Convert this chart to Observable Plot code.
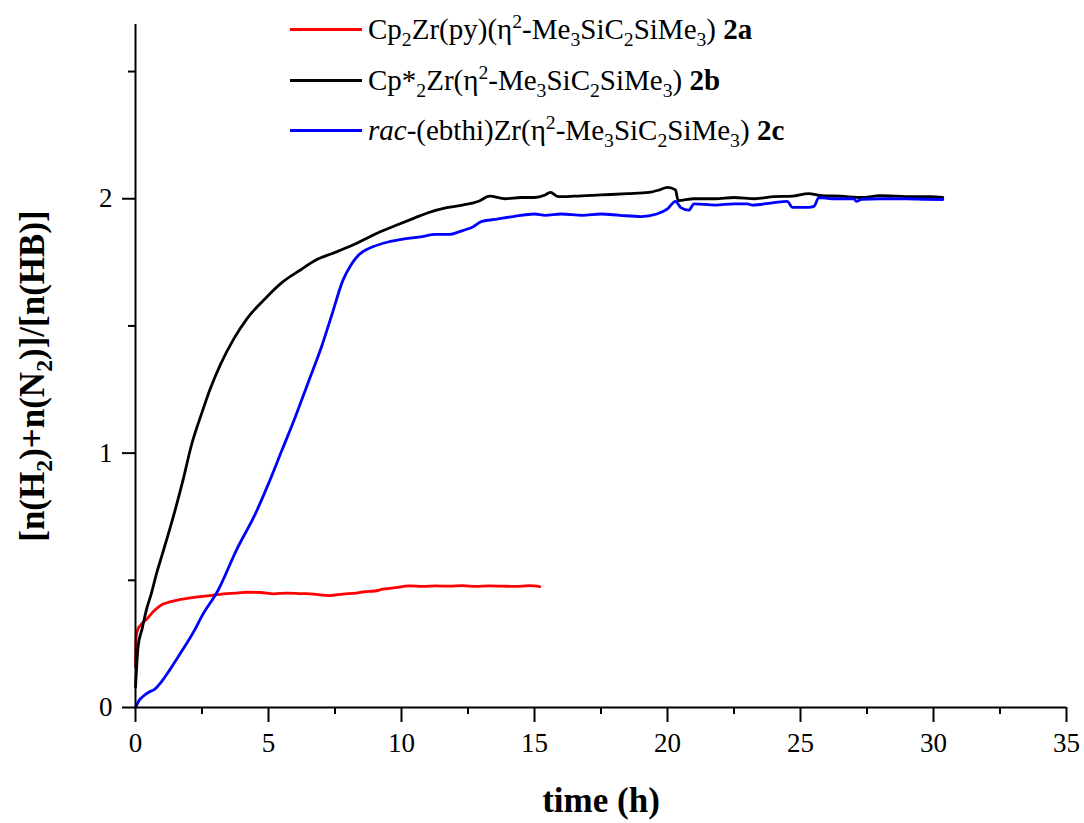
<!DOCTYPE html>
<html>
<head>
<meta charset="utf-8">
<script src="https://cdn.jsdelivr.net/npm/d3@7"></script>
<script src="https://cdn.jsdelivr.net/npm/@observablehq/plot@0.6"></script>
<style>
  html, body { margin: 0; padding: 0; background: #fff; }
  #wrap { position: relative; width: 1084px; height: 823px; font-family: "Liberation Serif", serif; color: #000; }
  #wrap svg { position: absolute; left: 0; top: 0; }
  #wrap svg text { font-family: "Liberation Serif", serif !important; }
  .swatch { position: absolute; left: 290px; width: 72px; height: 3px; }
  .ltext { position: absolute; left: 368px; font-size: 29px; line-height: 29px; white-space: nowrap; }
  sub, sup { font-size: 68%; line-height: 0; }
  .ytitle { position: absolute; left: 32px; top: 376px; transform: translate(-50%, -50%) rotate(-90deg); font-size: 35px; font-weight: bold; white-space: nowrap; line-height: 35px; }
  .xtitle { position: absolute; left: 601px; top: 800px; transform: translate(-50%, -50%); font-size: 35px; font-weight: bold; white-space: nowrap; line-height: 35px; }
</style>
</head>
<body>
<div id="wrap"></div>
<script>
// ---- data ----
const series = ["2a", "2b", "2c"];
const colors = ["#ff0000", "#000000", "#0000ff"];

const tRed = [0, 0.03, 0.1, 0.2, 0.4, 0.7, 1.0, 1.3, 1.7, 2.2, 2.8, 3.3, 3.8, 4.2, 4.7, 5.2, 5.7, 6.2, 6.7, 7.3, 7.8, 8.3, 8.6, 9.0, 9.3, 9.7, 10.3, 10.8, 11.3, 11.8, 12.3, 12.8, 13.3, 13.8, 14.3, 14.8, 15.2];
const vRed = [0.16, 0.28, 0.31, 0.325, 0.345, 0.38, 0.405, 0.415, 0.425, 0.433, 0.44, 0.447, 0.45, 0.453, 0.452, 0.447, 0.45, 0.448, 0.446, 0.44, 0.446, 0.45, 0.455, 0.458, 0.465, 0.47, 0.478, 0.476, 0.478, 0.477, 0.479, 0.476, 0.478, 0.477, 0.476, 0.479, 0.475];

const tBlack = [0, 0.1, 0.25, 0.4, 0.6, 0.8, 1.0, 1.2, 1.5, 1.8, 2.1, 2.5, 2.8, 3.2, 3.7, 4.2, 4.9, 5.5, 6.2, 6.8, 7.4, 8.0, 8.7, 9.2, 9.9, 10.5, 11.0, 11.7, 12.3, 12.9, 13.3, 13.9, 14.5, 15.0, 15.4, 15.6, 15.9, 16.5, 17.5, 18.5, 19.3, 19.7, 20.0, 20.3, 20.4, 21.0, 21.8, 22.5, 23.3, 24.0, 24.7, 25.3, 25.8, 26.5, 27.3, 28.0, 28.6, 29.3, 29.9, 30.35];
const vBlack = [0.08, 0.24, 0.31, 0.38, 0.45, 0.53, 0.6, 0.67, 0.78, 0.9, 1.03, 1.16, 1.25, 1.35, 1.45, 1.53, 1.61, 1.67, 1.72, 1.76, 1.785, 1.81, 1.845, 1.87, 1.9, 1.925, 1.945, 1.965, 1.975, 1.99, 2.01, 2.0, 2.005, 2.005, 2.015, 2.025, 2.008, 2.01, 2.015, 2.02, 2.025, 2.035, 2.045, 2.035, 1.993, 2.0, 2.0, 2.005, 2.0, 2.008, 2.01, 2.02, 2.012, 2.01, 2.005, 2.012, 2.01, 2.008, 2.008, 2.005];

const tBlue = [0, 0.15, 0.3, 0.5, 0.7, 1.0, 1.3, 1.7, 2.2, 2.5, 3.1, 3.8, 4.5, 5.0, 5.5, 6.0, 6.5, 7.0, 7.4, 7.8, 8.1, 8.4, 8.9, 9.5, 10.0, 10.7, 11.3, 11.8, 12.3, 12.7, 13.0, 13.6, 14.2, 15.0, 15.4, 16.0, 16.8, 17.5, 18.2, 19.0, 19.6, 20.0, 20.3, 20.5, 20.8, 21.0, 21.8, 22.5, 23.0, 23.2, 24.0, 24.5, 24.7, 25.3, 25.5, 25.7, 26.2, 27.0, 27.1, 27.3, 28.0, 29.0, 29.7, 30.35];
const vBlue = [0.0, 0.03, 0.045, 0.06, 0.07, 0.105, 0.15, 0.215, 0.3, 0.36, 0.46, 0.62, 0.76, 0.88, 1.01, 1.14, 1.28, 1.42, 1.55, 1.68, 1.74, 1.78, 1.81, 1.83, 1.84, 1.85, 1.86, 1.86, 1.875, 1.89, 1.91, 1.92, 1.93, 1.94, 1.935, 1.94, 1.935, 1.94, 1.935, 1.93, 1.94, 1.96, 1.99, 1.965, 1.955, 1.98, 1.975, 1.98, 1.98, 1.975, 1.985, 1.99, 1.966, 1.966, 1.97, 2.005, 2.0, 2.0, 1.99, 1.998, 2.0, 2.0, 1.998, 1.997];

const xTicks = [0, 5, 10, 15, 20, 25, 30, 35];
const xMinorTicks = [2.5, 7.5, 12.5, 17.5, 22.5, 27.5, 32.5];
const yTicks = [0, 1, 2];
const yMinorTicks = [0.5, 1.5, 2.5];

const legendLabels = [
  "Cp<sub>2</sub>Zr(py)(η<sup>2</sup>-Me<sub>3</sub>SiC<sub>2</sub>SiMe<sub>3</sub>) <b>2a</b>",
  "Cp*<sub>2</sub>Zr(η<sup>2</sup>-Me<sub>3</sub>SiC<sub>2</sub>SiMe<sub>3</sub>) <b>2b</b>",
  "<i>rac</i>-(ebthi)Zr(η<sup>2</sup>-Me<sub>3</sub>SiC<sub>2</sub>SiMe<sub>3</sub>) <b>2c</b>"
];
const xTitle = "time (h)";
const yTitle = "[n(H<sub>2</sub>)+n(N<sub>2</sub>)]/[n(HB)]";

// ---- build table ----
const rows = [];
[[tRed, vRed], [tBlack, vBlack], [tBlue, vBlue]].forEach(([ts, vs], i) => {
  ts.forEach((t, j) => rows.push({series: series[i], t, v: vs[j]}));
});

const FONT = "Liberation Serif";

const chart = Plot.plot({
  width: 1084,
  height: 823,
  marginLeft: 135,
  marginRight: 18,
  marginTop: 24,
  marginBottom: 116,
  x: {domain: [0, 35]},
  y: {domain: [0, 2.685]},
  color: {domain: series, range: colors},
  style: {fontFamily: FONT, fontSize: "27px", color: "#000", background: "transparent"},
  marks: [
    Plot.line(rows, {x: "t", y: "v", z: "series", stroke: "series", strokeWidth: 2.8, curve: "monotone-x"}),
    Plot.ruleX([0], {strokeWidth: 2}),
    Plot.ruleY([0], {strokeWidth: 2}),
    Plot.axisX({ticks: xTicks, tickSize: 15, tickPadding: 10, strokeWidth: 2, label: null, tickFormat: d3.format("d"), fontSize: 27, fontFamily: FONT}),
    Plot.axisX({ticks: xMinorTicks, tickSize: 7, strokeWidth: 2, label: null, tickFormat: () => ""}),
    Plot.axisY({ticks: yTicks, tickSize: 13, tickPadding: 10, strokeWidth: 2, label: null, tickFormat: d3.format("d"), fontSize: 27, fontFamily: FONT}),
    Plot.axisY({ticks: yMinorTicks, tickSize: 7, strokeWidth: 2, label: null, tickFormat: () => ""})
  ]
});

const wrap = document.getElementById("wrap");
wrap.appendChild(chart);

// legend (HTML overlay)
const legendY = [29, 80, 130];
legendLabels.forEach((lab, i) => {
  const sw = document.createElement("div");
  sw.className = "swatch";
  sw.style.top = (legendY[i] - 1.5) + "px";
  sw.style.background = colors[i];
  wrap.appendChild(sw);
  const tx = document.createElement("div");
  tx.className = "ltext";
  tx.style.top = (legendY[i] - 14) + "px";
  tx.innerHTML = lab;
  wrap.appendChild(tx);
});

const xt = document.createElement("div");
xt.className = "xtitle";
xt.textContent = xTitle;
wrap.appendChild(xt);

const yt = document.createElement("div");
yt.className = "ytitle";
yt.innerHTML = yTitle;
wrap.appendChild(yt);
</script>
</body>
</html>
